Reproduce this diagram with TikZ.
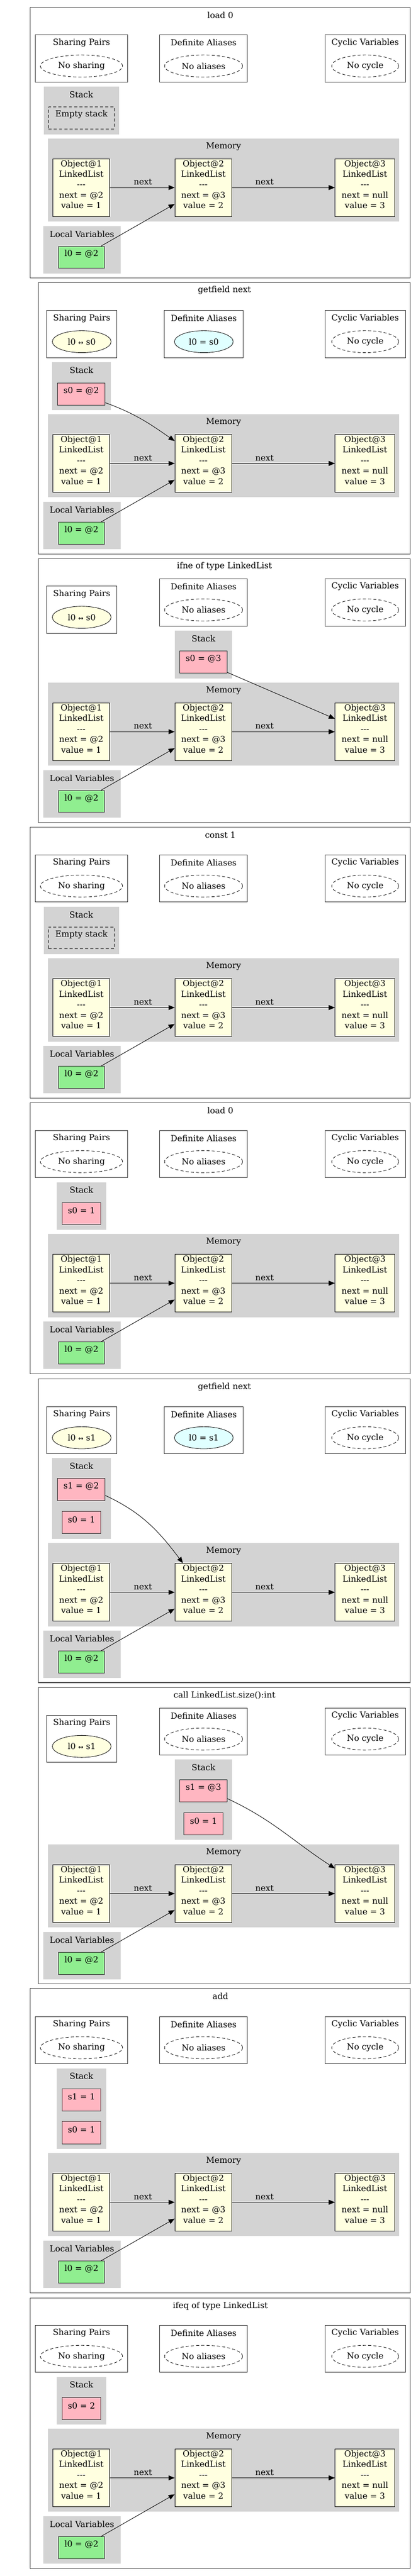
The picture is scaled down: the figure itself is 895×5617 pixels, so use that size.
\documentclass[tikz,border=0pt]{standalone}
\usepackage{fontspec}
\setmainfont{DejaVu Serif}
\newfontfamily\symf{DejaVu Sans}
\usetikzlibrary{shapes.geometric,arrows.meta,fit}
\definecolor{clgray}{HTML}{D3D3D3}
\definecolor{objyel}{HTML}{FFFFE0}
\definecolor{stpink}{HTML}{FFB6C1}
\definecolor{lvgreen}{HTML}{90EE90}
\definecolor{alcyan}{HTML}{E0FFFF}
\newcommand\gvf{\fontsize{13.6pt}{17.25pt}\selectfont}
\newcommand\dashes{-\kern0pt-\kern0pt-}
\newcommand\lr{{\symf\fontsize{10pt}{12pt}\selectfont ↔}}
\tikzset{
 txt/.style={font=\gvf, inner sep=0pt},
 panelframe/.style={draw=black!75, line width=0.9pt, inner sep=0pt},
 infoframe/.style={draw=black!85, line width=0.8pt, inner sep=0pt},
 clusterbox/.style={fill=clgray, inner sep=0pt},
 ww/.style={minimum width=#1*0.75pt},
 hh/.style={minimum height=#1*0.75pt},
 gvdash/.style={dash pattern=on 5pt off 3.5pt},
 emptyell/.style={ellipse, draw, gvdash, line width=0.7pt, font=\gvf, inner sep=0pt, hh=48},
 shell/.style={ellipse, draw, fill=objyel, line width=0.7pt, font=\gvf, inner sep=0pt, hh=48},
 alell/.style={ellipse, draw, fill=alcyan, line width=0.7pt, font=\gvf, inner sep=0pt, hh=48},
 obj/.style={draw, fill=objyel, font=\gvf, align=center, inner sep=0pt, line width=0.8pt},
 svar/.style={draw=black!85, fill=stpink, font=\gvf, inner sep=0pt, line width=0.8pt},
 lvar/.style={draw=black!85, fill=lvgreen, font=\gvf, inner sep=0pt, line width=0.8pt},
 emptystack/.style={draw, gvdash, font=\gvf, inner sep=0pt, line width=0.7pt},
 edge/.style={-{Triangle[length=10pt,width=8pt]}, line width=0.75pt},
 elbl/.style={font=\gvf, inner sep=0pt},
}
% name, x1, y1, y2, title
\newcommand\mkpanel[5]{%
  \node[panelframe, fit={(#2,#3)(894,#4)}] (#1) {};
  \node[txt] (#1t) at ({(#2+894)/2},{#3+17}) {#5};}
% name, x1, x2, y1, title, ellipse style, ellipse width, ellipse text
\newcommand\mkinfo[8]{%
  \node[infoframe, fit={(#2,#4)(#3,{#4+103})}] (#1) {};
  \node[txt] (#1t) at ({(#2+#3)/2},{#4+17}) {#5};
  \node[#6, ww=#7] (#1e) at ({(#2+#3)/2},{#4+68}) {#8};}
% name, x1, y1, x2, y2, title
\newcommand\mkcluster[6]{%
  \node[clusterbox, fit={(#2,#3)(#4,#5)}] (#1) {};
  \node[txt] (#1t) at ({(#2+#4)/2},{#3+17}) {#6};}
% style, name, x1, y1, x2, y2, text
\newcommand\mkbox[7]{%
  \node[#1, fit={(#3,#4)(#5,#6)}] (#2) {#7};}
% prefix, M (memory cluster top)
\newcommand\mkmem[2]{%
  \mkcluster{#1mem}{104}{#2}{870}{#2+181}{Memory}
  \mkbox{obj}{#1o1}{115}{#2+44}{239}{#2+170}{Object@1\\LinkedList\\\dashes\\next = @2\\value = 1}
  \mkbox{obj}{#1o2}{381}{#2+44}{505}{#2+170}{Object@2\\LinkedList\\\dashes\\next = @3\\value = 2}
  \mkbox{obj}{#1o3}{730}{#2+44}{860}{#2+170}{Object@3\\LinkedList\\\dashes\\next = null\\value = 3}
  \draw[edge] (#1o1) -- (#1o2) node[elbl, pos=0.51, yshift=9pt] {next};
  \draw[edge] (#1o2) -- (#1o3) node[elbl, pos=0.316, yshift=9pt] {next};
  \mkcluster{#1lv}{94}{#2+191}{263}{#2+294}{Local Variables}
  \mkbox{lvar}{#1l0}{128}{#2+235}{227}{#2+283}{l0 = @2}
  \draw[edge] (#1l0) -- (#1o2);}
\begin{document}
\begin{tikzpicture}[x=0.75pt, y=-0.75pt]
\useasboundingbox (0,0) rectangle (895,5617);
% ---------------- Panel A: load 0
\mkpanel{a}{66}{16}{606}{load 0}
\mkinfo{ash}{77}{278}{76}{Sharing Pairs}{emptyell}{179}{No sharing}
\mkinfo{ada}{348}{539}{76}{Definite Aliases}{emptyell}{170}{No aliases}
\mkinfo{acv}{708}{883}{76}{Cyclic Variables}{emptyell}{146}{No cycle}
\mkcluster{ast}{95}{189}{259}{293}{Stack}
\mkbox{emptystack}{aes}{106}{233}{249}{281}{Empty stack}
\mkmem{a}{302}
% ---------------- Panel B: getfield next
\mkpanel{b}{84}{616}{1208}{getfield next}
\mkinfo{bsh}{102}{254}{677}{Sharing Pairs}{shell}{128}{l0 \lr{} s0}
\mkinfo{bda}{358}{530}{677}{Definite Aliases}{alell}{128}{l0 = s0}
\mkinfo{bcv}{708}{883}{677}{Cyclic Variables}{emptyell}{146}{No cycle}
\mkcluster{bst}{114}{790}{241}{894}{Stack}
\mkbox{svar}{bs0}{125}{835}{229}{883}{s0 = @2}
\mkmem{b}{903.5}
\draw[edge] (bs0.-20) to[out=-20, in=145] (bo2.142);
% ---------------- Panel C: ifne of type LinkedList
\mkpanel{c}{84}{1218}{1793}{ifne of type LinkedList}
\mkinfo{csh}{102}{254}{1278}{Sharing Pairs}{shell}{128}{l0 \lr{} s0}
\mkinfo{cda}{348}{539}{1262}{Definite Aliases}{emptyell}{170}{No aliases}
\mkinfo{ccv}{708}{883}{1262}{Cyclic Variables}{emptyell}{146}{No cycle}
\mkcluster{cst}{380.5}{1375.5}{506}{1479}{Stack}
\mkbox{svar}{cs0}{391.5}{1419.5}{495}{1468}{s0 = @3}
\mkmem{c}{1488.5}
\draw[edge] (cs0) -- (co3);
% ---------------- Panel D: const 1
\mkpanel{d}{66}{1804}{2394.5}{const 1}
\mkinfo{dsh}{77}{278}{1864}{Sharing Pairs}{emptyell}{179}{No sharing}
\mkinfo{dda}{348}{539}{1864}{Definite Aliases}{emptyell}{170}{No aliases}
\mkinfo{dcv}{708}{883}{1864}{Cyclic Variables}{emptyell}{146}{No cycle}
\mkcluster{dst}{95}{1977}{259}{2080}{Stack}
\mkbox{emptystack}{des}{106}{2021}{249}{2069}{Empty stack}
\mkmem{d}{2090}
% ---------------- Panel E: load 0
\mkpanel{e}{66}{2405}{2996}{load 0}
\mkinfo{esh}{77}{278}{2465}{Sharing Pairs}{emptyell}{179}{No sharing}
\mkinfo{eda}{348}{539}{2465}{Definite Aliases}{emptyell}{170}{No aliases}
\mkinfo{ecv}{708}{883}{2465}{Cyclic Variables}{emptyell}{146}{No cycle}
\mkcluster{est}{124}{2578}{231}{2681.5}{Stack}
\mkbox{svar}{es0}{135}{2622}{220}{2670}{s0 = 1}
\mkmem{e}{2691}
% ---------------- Panel F: getfield next
\mkpanel{f}{84}{3007}{3669}{getfield next}
\mkinfo{fsh}{102}{254}{3067}{Sharing Pairs}{shell}{128}{l0 \lr{} s1}
\mkinfo{fda}{358}{530}{3067}{Definite Aliases}{alell}{128}{l0 = s1}
\mkinfo{fcv}{708}{883}{3067}{Cyclic Variables}{emptyell}{146}{No cycle}
\mkcluster{fst}{114}{3179.5}{241}{3355}{Stack}
\mkbox{svar}{fs1}{125}{3223.6}{229}{3272}{s1 = @2}
\mkbox{svar}{fs0}{135}{3295.5}{220}{3344}{s0 = 1}
\mkmem{f}{3365}
\draw[edge] (fs1.-14) to[out=-25, in=127] (fo2.125);
% ---------------- Panel G: call LinkedList.size():int
\mkpanel{g}{84}{3680}{4326}{call LinkedList.size():int}
\mkinfo{gsh}{102}{254}{3740}{Sharing Pairs}{shell}{128}{l0 \lr{} s1}
\mkinfo{gda}{348}{539}{3724}{Definite Aliases}{emptyell}{170}{No aliases}
\mkinfo{gcv}{708}{883}{3724}{Cyclic Variables}{emptyell}{146}{No cycle}
\mkcluster{gst}{380.5}{3836.5}{506}{4012}{Stack}
\mkbox{svar}{gs1}{391.5}{3881}{495}{3929}{s1 = @3}
\mkbox{svar}{gs0}{401}{3953}{485.5}{4001}{s0 = 1}
\mkmem{g}{4022}
\draw[edge] (gs1.-18) to[out=-25, in=147] (go3.140);
% ---------------- Panel H: add
\mkpanel{h}{66}{4336}{4999.5}{add}
\mkinfo{hsh}{77}{278}{4397}{Sharing Pairs}{emptyell}{179}{No sharing}
\mkinfo{hda}{348}{539}{4397}{Definite Aliases}{emptyell}{170}{No aliases}
\mkinfo{hcv}{708}{883}{4397}{Cyclic Variables}{emptyell}{146}{No cycle}
\mkcluster{hst}{124}{4510}{231}{4686}{Stack}
\mkbox{svar}{hs1}{135}{4555}{220}{4603}{s1 = 1}
\mkbox{svar}{hs0}{135}{4626}{220}{4675}{s0 = 1}
\mkmem{h}{4695}
% ---------------- Panel I: ifeq of type LinkedList
\mkpanel{i}{66}{5011}{5601}{ifeq of type LinkedList}
\mkinfo{ish}{77}{278}{5070}{Sharing Pairs}{emptyell}{179}{No sharing}
\mkinfo{ida}{348}{539}{5070}{Definite Aliases}{emptyell}{170}{No aliases}
\mkinfo{icv}{708}{883}{5070}{Cyclic Variables}{emptyell}{146}{No cycle}
\mkcluster{ist}{124}{5183}{231}{5287}{Stack}
\mkbox{svar}{is0}{135}{5228}{220}{5276}{s0 = 2}
\mkmem{i}{5296}
\end{tikzpicture}
\end{document}
